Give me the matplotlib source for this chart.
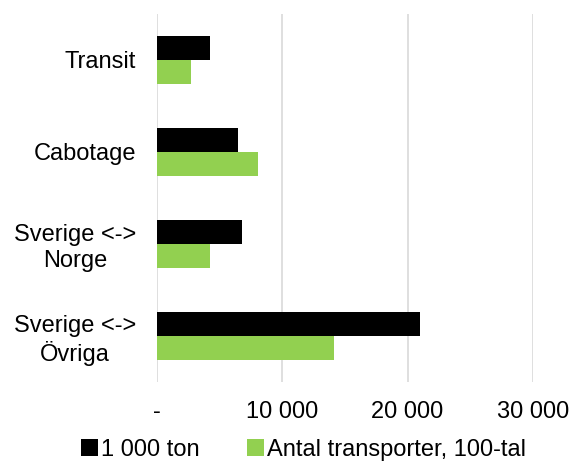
import numpy as np
import matplotlib.pyplot as plt
from matplotlib.ticker import FuncFormatter

plt.rcParams['font.family'] = ['Liberation Sans', 'DejaVu Sans']

categories = ['Transit', 'Cabotage', 'Sverige <->\nNorge', 'Sverige <->\nÖvriga']
ton_1000 = [4200, 6450, 6750, 21000]        # 1 000 ton
transporter_100 = [2750, 8050, 4250, 14100]  # Antal transporter, 100-tal

fig = plt.figure(figsize=(5.71, 4.63), dpi=100)
ax = fig.add_axes([0.275, 0.175, 0.658, 0.795])

y = np.arange(len(categories))
h = 0.26
ax.barh(y - h/2, ton_1000, height=h, color='#000000', label='1 000 ton', zorder=3)
ax.barh(y + h/2, transporter_100, height=h, color='#92D050',
        label='Antal transporter, 100-tal', zorder=3)

ax.set_ylim(len(categories) - 0.5, -0.5)
ax.set_xlim(0, 30000)
ax.set_xticks([0, 10000, 20000, 30000])
ax.xaxis.set_major_formatter(FuncFormatter(
    lambda v, p: '-' if v == 0 else f'{int(v):,}'.replace(',', ' ')))
ax.set_yticks(y)
ax.set_yticklabels(categories, multialignment='center')

ax.tick_params(axis='both', length=0, labelsize=17)
ax.tick_params(axis='y', pad=15)
ax.tick_params(axis='x', pad=14)
ax.grid(axis='x', color='#D9D9D9', linewidth=1.2, zorder=0)
for s in ax.spines.values():
    s.set_visible(False)

ax.legend(loc='upper center', bbox_to_anchor=(0.39, -0.128), ncol=2,
          frameon=False, fontsize=17, handlelength=0.7, handleheight=0.7,
          handletextpad=0.15, columnspacing=2.0, borderaxespad=0)

fig.savefig('out.png', dpi=100)
